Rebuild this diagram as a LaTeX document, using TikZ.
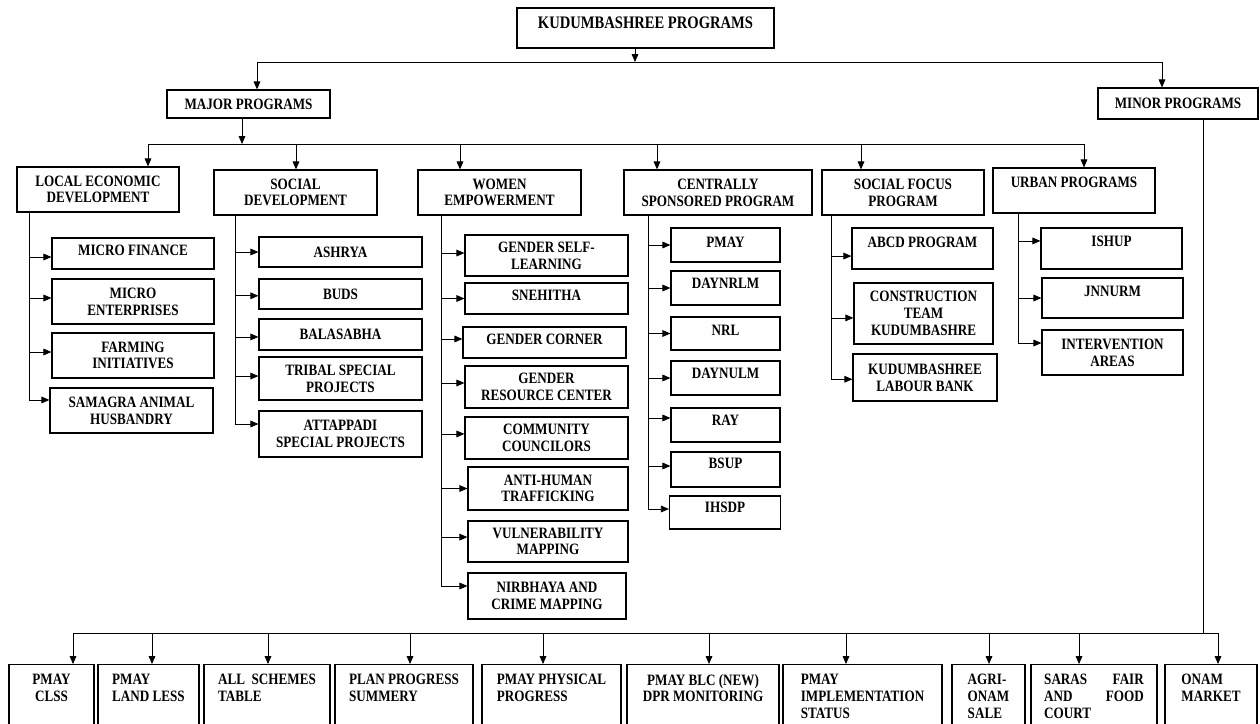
\documentclass[tikz,border=0pt]{standalone}
\usepackage{fontspec}
\setmainfont{Liberation Serif}[FakeStretch=0.83]
\usetikzlibrary{arrows.meta}
\tikzset{>={Triangle[length=4.5pt,width=3.8pt]}, % small filled arrow heads
x=0.02cm, y=-0.02cm, % one unit is one pixel of the chart, y runs down
box/.style={draw, line width=0.7pt, rectangle, align=center, inner sep=1pt, font=\bfseries\fontsize{9}{9.5}\selectfont}, % every program box
sz/.style 2 args={minimum width=#1*0.02cm, minimum height=#2*0.02cm}, % box size in pixels
hi/.style={text depth=#1}, % lifts the text inside a box
lowbox/.style={box, anchor=north, align=left, inner ysep=5.5pt, text depth=30pt}, % minor program boxes
every edge/.append style={->}, % edges are arrows
line width=0.7pt,
}

\begin{document}
\begin{tikzpicture}
\useasboundingbox (0,0) rectangle (1260,723);
\clip (0,0) rectangle (1260,723);

\node[box, sz={257}{40}, hi=5.7pt, font=\bfseries\fontsize{10}{11}\selectfont] (kudu) at (645.5,28) {KUDUMBASHREE PROGRAMS};
\node[box, sz={163}{28}] (major) at (248.5,104) {MAJOR PROGRAMS};
\node[box, sz={160}{31}] (minor) at (1178,103.5) {MINOR PROGRAMS};

\node[box, sz={162}{45}] (led) at (98,189.5) {LOCAL ECONOMIC\\DEVELOPMENT};
\node[box, sz={163}{45}] (socdev) at (295.5,192.5) {SOCIAL\\DEVELOPMENT};
\node[box, sz={163}{45}] (women) at (499.5,192.5) {WOMEN\\EMPOWERMENT};
\node[box, sz={188}{45}] (csp) at (718,192.5) {CENTRALLY\\SPONSORED PROGRAM};
\node[box, sz={162}{45}] (sfp) at (903,192.5) {SOCIAL FOCUS\\PROGRAM};
\node[box, sz={162}{45}, hi=9.6pt] (urban) at (1074,190.5) {URBAN PROGRAMS};

\node[box, sz={162}{31}, hi=4pt] (mfin) at (133,253.5) {MICRO FINANCE};
\node[box, sz={162}{45}] (ment) at (133,301.5) {MICRO\\ENTERPRISES};
\node[box, sz={162}{45}] (farm) at (133,355.5) {FARMING\\INITIATIVES};
\node[box, sz={163}{45}] (samagra) at (131.5,410.5) {SAMAGRA ANIMAL\\HUSBANDRY};

\node[box, sz={163}{30}] (ashrya) at (340.5,252) {ASHRYA};
\node[box, sz={163}{30}] (buds) at (340.5,294) {BUDS};
\node[box, sz={163}{31}] (bala) at (340.5,334.5) {BALASABHA};
\node[box, sz={163}{43}] (tribal) at (340.5,378.5) {TRIBAL SPECIAL\\PROJECTS};
\node[box, sz={163}{46}] (attap) at (340.5,434) {ATTAPPADI\\SPECIAL PROJECTS};

\node[box, sz={163}{41}] (gself) at (546.5,255.5) {GENDER SELF-\\LEARNING};
\node[box, sz={163}{31}, hi=4pt] (sneh) at (546.5,298.5) {SNEHITHA};
\node[box, sz={163}{31}, hi=4pt] (gcorner) at (544.5,342.5) {GENDER CORNER};
\node[box, sz={163}{42}] (gres) at (546.5,387) {GENDER\\RESOURCE CENTER};
\node[box, sz={163}{42}] (ccoun) at (546.5,438) {COMMUNITY\\COUNCILORS};
\node[box, sz={160}{43}] (anti) at (548,488.5) {ANTI-HUMAN\\TRAFFICKING};
\node[box, sz={160}{41}] (vuln) at (548,541.5) {VULNERABILITY\\MAPPING};
\node[box, sz={158}{46}] (nirb) at (547,596) {NIRBHAYA AND\\CRIME MAPPING};

\node[box, sz={109}{34}, hi=3.4pt] (pmay) at (725.5,245) {PMAY};
\node[box, sz={109}{34}, hi=5.6pt] (nrlm) at (725.5,288) {DAYNRLM};
\node[box, sz={109}{33}, hi=4pt] (nrl) at (725.5,333.5) {NRL};
\node[box, sz={109}{34}, hi=5.6pt] (nulm) at (725.5,378) {DAYNULM};
\node[box, sz={109}{34}, hi=5.6pt] (ray) at (725.5,425) {RAY};
\node[box, sz={109}{35}, hi=7.4pt] (bsup) at (725.5,469.5) {BSUP};
\node[box, sz={111}{33}, hi=6.2pt] (ihsdp) at (725,512.5) {IHSDP};

\node[box, sz={141}{41}, hi=7.4pt] (abcd) at (922.5,248.5) {ABCD PROGRAM};
\node[box, sz={139}{61}] (ctk) at (923.5,313.5) {CONSTRUCTION\\TEAM\\KUDUMBASHRE};
\node[box, sz={144}{47}] (klb) at (925,377.5) {KUDUMBASHREE\\LABOUR BANK};

\node[box, sz={141}{41}, hi=8.5pt] (ishup) at (1111.5,248.5) {ISHUP};
\node[box, sz={141}{40}, hi=8pt] (jnnurm) at (1112.5,298) {JNNURM};
\node[box, sz={141}{45}] (iarea) at (1112.5,352.5) {INTERVENTION\\AREAS};

\node[lowbox, sz={85}{0}, align=center] (clss) at (51.5,664) {PMAY\\CLSS};
\node[lowbox, sz={101}{0}] (pll) at (148.5,664) {PMAY\\LAND LESS};
\node[lowbox, sz={126}{0}] (asch) at (267,664) {ALL\ \ SCHEMES\\TABLE};
\node[lowbox, sz={138}{0}] (ppsum) at (404,664) {PLAN PROGRESS\\SUMMERY};
\node[lowbox, sz={139}{0}] (pphys) at (551.5,664) {PMAY PHYSICAL\\PROGRESS};
\node[lowbox, sz={152}{0}, align=center] (pblc) at (703,664) {PMAY BLC (NEW)\\DPR MONITORING};
\node[lowbox, sz={159}{0}] (pimpl) at (862.5,664) {PMAY\\IMPLEMENTATION\\STATUS};
\node[lowbox, sz={73}{0}] (agri) at (988.5,664) {AGRI-\\ONAM\\SALE};
\node[lowbox, sz={126}{0}, text width=56.7pt] (saras) at (1094,664) {SARAS\hfill FAIR\\AND\hfill FOOD\\COURT};
\node[lowbox, sz={92}{0}] (onam) at (1211,664) {ONAM\\MARKET};

% top level
\coordinate (k0) at (635,62);
\coordinate (k1) at (257,62);
\coordinate (k2) at (1162,62);
\draw[->] (kudu.south -| k0) -- (k0);
\draw (k1) -- (k2);
\draw
(k1) edge (k1 |- major.north)
(k2) edge (k2 |- minor.north);

% major programs
\coordinate (m0) at (242,144);
\coordinate (m1) at (148,144);
\coordinate (m2) at (296,144);
\coordinate (m3) at (460,144);
\coordinate (m4) at (657,144);
\coordinate (m5) at (861,144);
\coordinate (m6) at (1084,144);
\draw[->] (major.south -| m0) -- (m0);
\draw (m1) -- (m6);
\draw
(m1) edge (m1 |- led.north)
(m2) edge (m2 |- socdev.north)
(m3) edge (m3 |- women.north)
(m4) edge (m4 |- csp.north)
(m5) edge (m5 |- sfp.north)
(m6) edge (m6 |- urban.north);

% sub programs
\coordinate (t1) at (29,0);
\coordinate (t2) at (235,0);
\coordinate (t3) at (441,0);
\coordinate (t4) at (648,0);
\coordinate (t5) at (831,0);
\coordinate (t6) at (1018,0);
\draw[->] (led.south -| t1) |- ([yshift=6pt]samagra.west);
\draw[->] (socdev.south -| t2) |- ([yshift=5.7pt]attap.west);
\draw[->] (women.south -| t3) |- ([yshift=5.7pt]nirb.west);
\draw[->] (csp.south -| t4) |- ([yshift=2pt]ihsdp.west);
\draw[->] (sfp.south -| t5) |- ([yshift=-1pt]klb.west);
\draw[->] (urban.south -| t6) |- ([yshift=5.4pt]iarea.west);
\draw
([yshift=-2pt]t1 |- mfin.west) edge ([yshift=-2pt]mfin.west)
([yshift=2pt]t1 |- ment.west) edge ([yshift=2pt]ment.west)
([yshift=2pt]t1 |- farm.west) edge ([yshift=2pt]farm.west)
(t2 |- ashrya.west) edge (ashrya.west)
([yshift=-1pt]t2 |- buds.west) edge ([yshift=-1pt]buds.west)
([yshift=-1.4pt]t2 |- bala.west) edge ([yshift=-1.4pt]bala.west)
([yshift=1.4pt]t2 |- tribal.west) edge ([yshift=1.4pt]tribal.west)
([yshift=1.4pt]t3 |- gself.west) edge ([yshift=1.4pt]gself.west)
(t3 |- sneh.west) edge (sneh.west)
([yshift=2pt]t3 |- gcorner.west) edge ([yshift=2pt]gcorner.west)
([yshift=2.3pt]t3 |- gres.west) edge ([yshift=2.3pt]gres.west)
([yshift=2.3pt]t3 |- ccoun.west) edge ([yshift=2.3pt]ccoun.west)
(t3 |- anti.west) edge (anti.west)
([yshift=2.5pt]t3 |- vuln.west) edge ([yshift=2.5pt]vuln.west)
(t4 |- pmay.west) edge (pmay.west)
(t4 |- nrlm.west) edge (nrlm.west)
(t4 |- nrl.west) edge (nrl.west)
(t4 |- nulm.west) edge (nulm.west)
([yshift=4pt]t4 |- ray.west) edge ([yshift=4pt]ray.west)
([yshift=2pt]t4 |- bsup.west) edge ([yshift=2pt]bsup.west)
([yshift=-4.3pt]t5 |- abcd.west) edge ([yshift=-4.3pt]abcd.west)
([yshift=-2.5pt]t5 |- ctk.west) edge ([yshift=-2.5pt]ctk.west)
([yshift=4.3pt]t6 |- ishup.west) edge ([yshift=4.3pt]ishup.west)
(t6 |- jnnurm.west) edge (jnnurm.west);

% minor programs
\coordinate (n0) at (1203,633);
\coordinate (n1) at (73,633);
\coordinate (n2) at (152,633);
\coordinate (n3) at (268,633);
\coordinate (n4) at (410,633);
\coordinate (n5) at (543,633);
\coordinate (n6) at (709,633);
\coordinate (n7) at (846,633);
\coordinate (n8) at (989,633);
\coordinate (n9) at (1079,633);
\coordinate (n10) at (1218,633);
\draw (minor.south -| n0) -- (n0);
\draw (n1) -- (n10);
\draw
(n1) edge (n1 |- clss.north)
(n2) edge (n2 |- pll.north)
(n3) edge (n3 |- asch.north)
(n4) edge (n4 |- ppsum.north)
(n5) edge (n5 |- pphys.north)
(n6) edge (n6 |- pblc.north)
(n7) edge (n7 |- pimpl.north)
(n8) edge (n8 |- agri.north)
(n9) edge (n9 |- saras.north)
(n10) edge (n10 |- onam.north);

\end{tikzpicture}
\end{document}
